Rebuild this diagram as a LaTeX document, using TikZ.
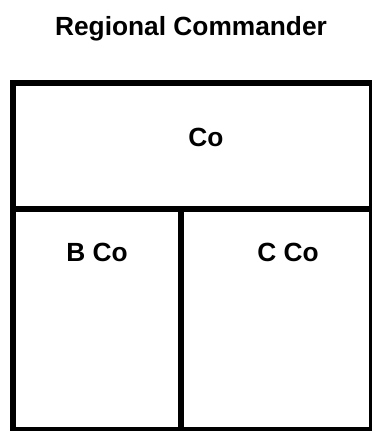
\documentclass[tikz,border=0pt]{standalone}
\usepackage{fontspec}
\setmainfont{Liberation Sans}
\begin{document}
\begin{tikzpicture}[x=1pt,y=-1pt,
  lbl/.style={anchor=base,inner sep=0pt,font=\fontsize{26.3}{30}\selectfont\bfseries},
  frame/.style={line width=6pt,draw=black}]
\useasboundingbox[fill=white] (0,0) rectangle (372,431);
\node[lbl] (title) at (191,35) {Regional Commander};
\draw[frame] (13,83) rectangle (372,430);
\coordinate (hl) at (13,208.5);
\coordinate (hr) at (372,208.5);
\draw[frame] (hl) -- (hr);
\coordinate (vt) at (181,208.5);
\coordinate (vb) at (181,430);
\draw[frame] (vt) -- (vb);
\node[lbl] (co) at (206,146) {Co};
\node[lbl] (bco) at (97,261) {B Co};
\node[lbl] (cco) at (288,261) {C Co};
\end{tikzpicture}
\end{document}
